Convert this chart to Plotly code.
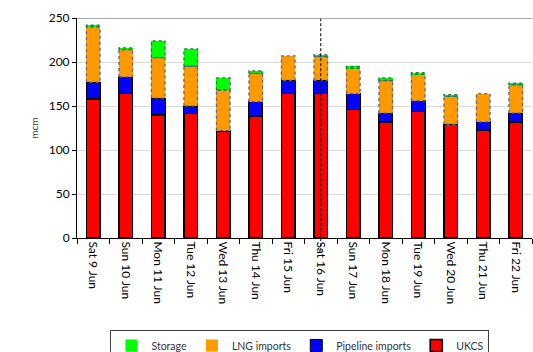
import numpy as np
import plotly.graph_objects as go

# Daily gas supply by source (mcm)
days = ["Sat 9 Jun", "Sun 10 Jun", "Mon 11 Jun", "Tue 12 Jun", "Wed 13 Jun",
        "Thu 14 Jun", "Fri 15 Jun", "Sat 16 Jun", "Sun 17 Jun", "Mon 18 Jun",
        "Tue 19 Jun", "Wed 20 Jun", "Thu 21 Jun", "Fri 22 Jun"]
ukcs = [158, 164, 140, 142, 121, 138, 164, 164, 146, 132, 144, 129, 122, 132]
pipeline = [19, 19, 19, 8, 1, 17, 15, 15, 18, 10, 12, 0, 10, 10]
lng = [63, 31, 46, 45, 46, 32, 28, 27, 29, 37, 30, 32, 32, 32]
storage = [2, 2, 19, 20, 14, 3, 0, 2, 2, 3, 2, 2, 0, 2]
y_ticks = [0, 50, 100, 150, 200, 250]
marker_day = "Sat 16 Jun"

x = np.arange(len(days))
bar_w = 0.42
font = "Lato, 'Open Sans', sans-serif"

fig = go.Figure()
fig.add_bar(x=x, y=ukcs, name="UKCS", width=bar_w,
            marker=dict(color="#FF0000", line=dict(color="#000000", width=1.5)))
fig.add_bar(x=x, y=pipeline, name="Pipeline imports", width=bar_w,
            marker=dict(color="#0000FF", line=dict(color="#000000", width=1)))
fig.add_bar(x=x, y=lng, name="LNG imports", width=bar_w,
            marker=dict(color="#FF9900", line=dict(color="#FF9900", width=0)))
fig.add_bar(x=x, y=storage, name="Storage", width=bar_w,
            marker=dict(color="#00FF00", line=dict(color="#00FF00", width=0)))


def outline(bases, heights):
    """Closed rectangle paths around stacked segments, for dotted borders."""
    xs, ys = [], []
    for i, (b, h) in enumerate(zip(bases, heights)):
        if h <= 0:
            continue
        l, r = i - bar_w / 2, i + bar_w / 2
        xs += [l, l, r, r, l, None]
        ys += [b, b + h, b + h, b, b, None]
    return xs, ys


base_lng = np.array(ukcs) + np.array(pipeline)
base_sto = base_lng + np.array(lng)
lx, ly = outline(base_lng, lng)
sx, sy = outline(base_sto, storage)
fig.add_scatter(x=lx, y=ly, mode="lines", showlegend=False, hoverinfo="skip",
                line=dict(color="#50689A", width=1.3, dash="dot"))
fig.add_scatter(x=sx, y=sy, mode="lines", showlegend=False, hoverinfo="skip",
                line=dict(color="#1E7B3A", width=1.3, dash="dot"))

idx = days.index(marker_day)
fig.add_shape(type="line", xref="x", yref="paper", x0=idx, x1=idx, y0=-0.06, y1=1,
              line=dict(color="#000000", width=1, dash="3px,2px"))
fig.add_shape(type="line", xref="paper", yref="y", x0=0, x1=1, y0=250, y1=250,
              line=dict(color="#8C8C8C", width=1.5))

fig.update_layout(
    barmode="stack",
    width=533, height=352,
    margin=dict(l=77, r=1, t=18, b=114, autoexpand=False),
    paper_bgcolor="white", plot_bgcolor="white",
    font=dict(family=font, color="#000000", size=12),
    showlegend=True,
    legend=dict(orientation="h", traceorder="reversed",
                x=0.49, y=-0.418, xanchor="center", yanchor="top",
                bordercolor="#404040", borderwidth=1,
                font=dict(size=10.5, color="#333333"),
                itemwidth=30, tracegroupgap=0),
    xaxis=dict(range=[-0.5, len(days) - 0.5], tickvals=x, ticktext=days,
               tickangle=90, ticks="", showgrid=False, zeroline=False,
               showline=True, linecolor="#000000", linewidth=1,
               tickfont=dict(size=12),
               minor=dict(tickvals=np.arange(len(days) + 1) - 0.5,
                          ticks="outside", ticklen=5, tickcolor="#000000",
                          showgrid=False)),
    yaxis=dict(range=[0, 250], tickvals=y_ticks, showgrid=True,
               gridcolor="#D9D9D9", gridwidth=1, zeroline=False,
               showline=True, linecolor="#000000", linewidth=1,
               ticks="outside", ticklen=4, tickcolor="#000000",
               tickfont=dict(size=12),
               title=dict(text="mcm", font=dict(size=10, color="#333333"),
                          standoff=8)),
)

fig.write_html("out.html")
